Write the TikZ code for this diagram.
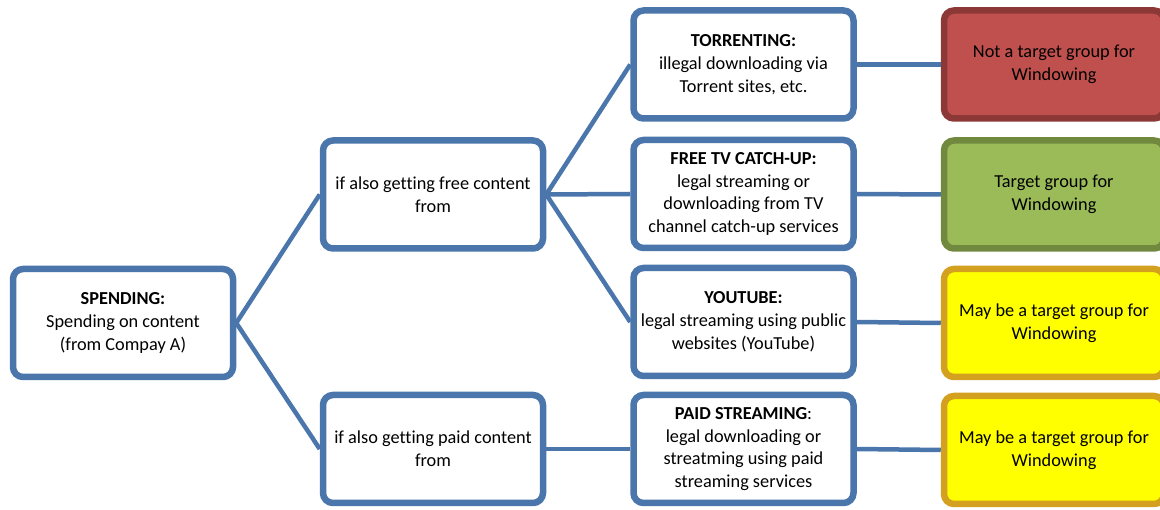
\documentclass[tikz,border=0pt]{standalone}
\usepackage{fontspec}
\setmainfont[Ligatures=NoCommon]{Carlito}
\usetikzlibrary{shadows}
\definecolor{bblue}{HTML}{4A76AC}
\definecolor{rfill}{HTML}{C0504D}
\definecolor{rborder}{HTML}{8C3836}
\definecolor{gfill}{HTML}{9BBB59}
\definecolor{gborder}{HTML}{71893F}
\definecolor{yfill}{HTML}{FFFF00}
\definecolor{yborder}{HTML}{D4A020}
\tikzset{
  box/.style={rectangle, rounded corners=10pt, line width=6.5pt, draw=bblue, fill=white,
    minimum width=220pt, minimum height=108pt, align=center, inner sep=2pt,
    font=\fontsize{18.3}{22.8}\selectfont,
    drop shadow={shadow xshift=1.5pt, shadow yshift=-2.5pt, opacity=0.25, fill=black}},
  redbox/.style={box, draw=rborder, fill=rfill},
  greenbox/.style={box, draw=gborder, fill=gfill},
  yelbox/.style={box, draw=yborder, fill=yfill},
  conn/.style={draw=bblue, line width=4.5pt},
}
\begin{document}
\begin{tikzpicture}[x=1pt,y=-1pt]
\useasboundingbox (0,0) rectangle (1160,510);
\node[box] (spend) at (123,323) {\textbf{SPENDING:}\\Spending on content\\(from Compay A)};
\node[box] (free) at (433,194.5) {if also getting free content\\from};
\node[box] (paid) at (433,449) {if also getting paid content\\from};
\node[box] (torr) at (743.5,64.5) {\textbf{TORRENTING:}\\illegal downloading via\\Torrent sites, etc.};
\node[box] (tv) at (743.5,194) {\textbf{FREE TV CATCH-UP:}\\legal streaming or\\downloading from TV\\channel catch-up services};
\node[box] (yt) at (743.5,322) {\textbf{YOUTUBE:}\\legal streaming using public\\websites (YouTube)};
\node[box] (ps) at (743.5,449) {\textbf{PAID STREAMING}:\\legal downloading or\\streatming using paid\\streaming services};
\node[redbox] (r1) at (1054,64.5) {Not a target group for\\Windowing};
\node[greenbox] (r2) at (1054,194.5) {Target group for\\Windowing};
\node[yelbox] (r3) at (1054,323) {May be a target group for\\Windowing};
\node[yelbox] (r4) at (1054,450) {May be a target group for\\Windowing};
\draw[conn] (spend.east) -- (free.west);
\draw[conn] (spend.east) -- (paid.west);
\draw[conn] (free.east) -- (torr.west);
\draw[conn] (free.east) -- (tv.west);
\draw[conn] (free.east) -- (yt.west);
\draw[conn] (paid.east) -- (ps.west);
\draw[conn] (torr.east) -- (r1.west);
\draw[conn] (tv.east) -- (r2.west);
\draw[conn] (yt.east) -- (r3.west);
\draw[conn] (ps.east) -- (r4.west);
\end{tikzpicture}
\end{document}
